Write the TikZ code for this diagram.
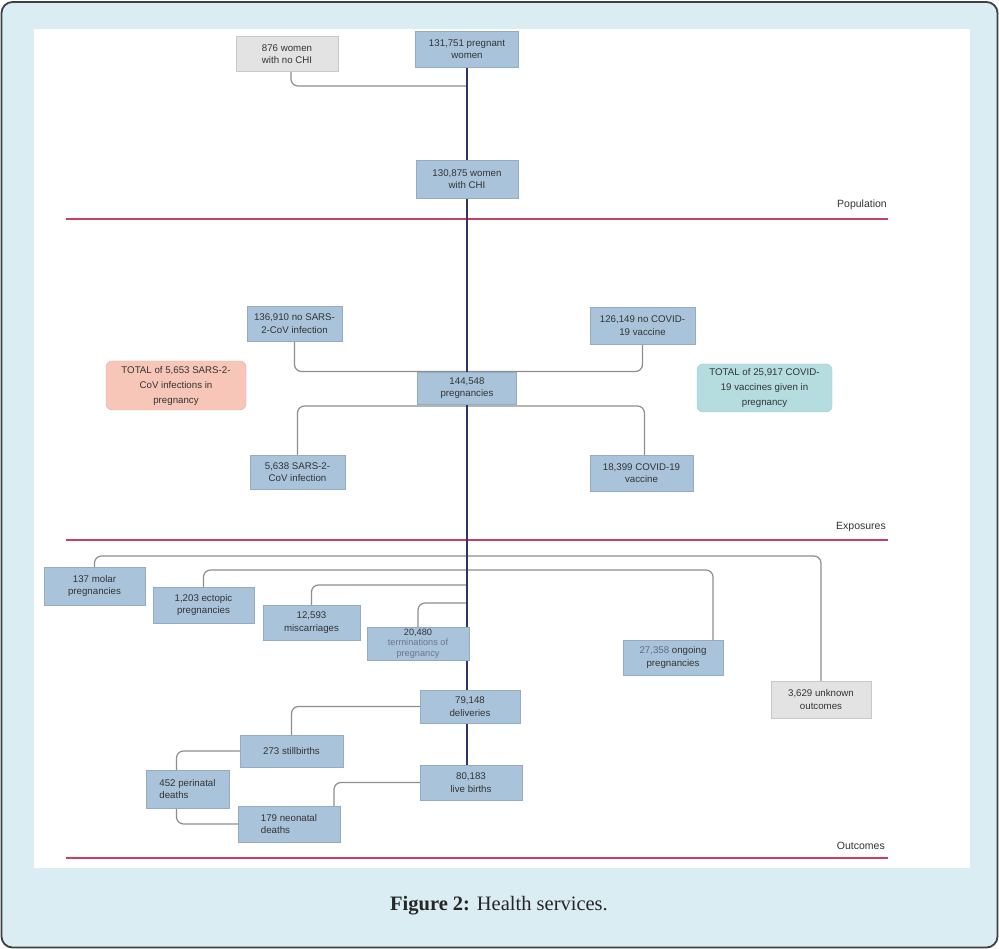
\documentclass[tikz,border=0pt]{standalone}
\usepackage{fontspec}
\setmainfont{Liberation Serif}
\newfontfamily\boxfont{Liberation Sans}
\usetikzlibrary{calc}
\pgfdeclarelayer{bg}
\pgfdeclarelayer{lines}
\pgfsetlayers{bg,lines,main}
\definecolor{framebg}{HTML}{D9EDF2}
\definecolor{boxblue}{HTML}{A9C4DA}
\definecolor{boxgray}{HTML}{E3E3E3}
\definecolor{totsalmon}{HTML}{F7C6B8}
\definecolor{totteal}{HTML}{B5DDDF}
\definecolor{mainnavy}{HTML}{2E3566}
\definecolor{redline}{HTML}{C94060}
\definecolor{conngray}{HTML}{8E8E8E}
\definecolor{txt}{HTML}{333333}
\tikzset{
  box/.style={fill=boxblue, draw=boxblue!88!black, line width=0.4pt, inner sep=1pt, align=center,
    font=\boxfont\fontsize{9.7}{12.5}\selectfont, text=txt},
  graybox/.style={box, fill=boxgray, draw=boxgray!88!black},
  totbox/.style={box, rounded corners=6pt, font=\boxfont\fontsize{9.7}{15}\selectfont},
  conn/.style={draw=conngray, line width=1.2pt, rounded corners=7pt},
  mainline/.style={draw=mainnavy, line width=2pt},
  sepline/.style={draw=redline, line width=2.8pt},
  seclabel/.style={font=\boxfont\fontsize{10.5}{12}\selectfont, text=txt, anchor=east, inner sep=0pt}
}
\begin{document}
\begin{tikzpicture}[x=1pt,y=-1pt]
\useasboundingbox (0,0) rectangle (999,949);
\begin{pgfonlayer}{bg}
  \draw[fill=framebg, draw=black!75, line width=1.8pt, rounded corners=11pt] (1.5,2) rectangle (997.5,947.5);
  \fill[white] (34,29) rectangle (970,868);
\end{pgfonlayer}

% population
\node[graybox, minimum width=102pt, minimum height=35pt] (n1) at (287,54) {876 women\\with no CHI};
\node[box, minimum width=103pt, minimum height=36pt] (n2) at (467,49) {131,751 pregnant\\women};
\node[box, minimum width=102pt, minimum height=38pt] (n3) at (467,179) {130,875 women\\with CHI};
\coordinate (j1) at (467,86);

% exposures
\node[box, minimum width=95pt, minimum height=35pt] (n4) at (294.5,323.5) {136,910 no SARS-\\2-CoV infection};
\node[box, minimum width=105pt, minimum height=37pt] (n5) at (642.5,325.5) {126,149 no COVID-\\19 vaccine};
\node[totbox, fill=totsalmon, draw=totsalmon!90!black, minimum width=140pt, minimum height=49pt] (t1) at (176,385.5) {TOTAL of 5,653 SARS-2-\\CoV infections in\\pregnancy};
\node[box, minimum width=99pt, minimum height=32pt] (n6) at (467,388) {144,548\\pregnancies};
\node[totbox, fill=totteal, draw=totteal!90!black, minimum width=135pt, minimum height=48pt] (t2) at (764.5,388) {TOTAL of 25,917 COVID-\\19 vaccines given in\\pregnancy};
\node[box, minimum width=95pt, minimum height=34pt] (n7) at (297.5,472) {5,638 SARS-2-\\CoV infection};
\node[box, minimum width=103pt, minimum height=36pt] (n8) at (641.5,473) {18,399 COVID-19\\vaccine};
\coordinate (j2) at (467,371.5);
\coordinate (j3) at (467,406);

% outcomes
\node[box, minimum width=101pt, minimum height=38pt] (o1) at (94.5,586) {137 molar\\pregnancies};
\node[box, minimum width=101pt, minimum height=36pt] (o2) at (203.5,605) {1,203 ectopic\\pregnancies};
\node[box, minimum width=97pt, minimum height=35pt] (o3) at (311.5,622.5) {12,593\\miscarriages};
\node[box, minimum width=102pt, minimum height=33pt, font=\boxfont\fontsize{9.2}{10.5}\selectfont] (o4) at (418,643.5) {20,480\\\textcolor{mainnavy!70}{terminations of}\\\textcolor{mainnavy!70}{pregnancy}};
\node[box, minimum width=100pt, minimum height=35pt] (o5) at (673,657.5) {\textcolor{mainnavy!75}{27,358} ongoing\\pregnancies};
\node[graybox, minimum width=100pt, minimum height=37pt] (o6) at (821,699.5) {3,629 unknown\\outcomes};
\coordinate (j4) at (467,556);
\coordinate (j5) at (467,570);
\coordinate (j6) at (467,585);
\coordinate (j7) at (467,603);

\node[box, minimum width=100pt, minimum height=33pt] (d1) at (470,706.5) {79,148\\deliveries};
\node[box, minimum width=103pt, minimum height=32pt] (d2) at (291.5,751) {273 stillbirths};
\node[box, minimum width=102pt, minimum height=35pt] (d3) at (471,782.5) {80,183\\live births};
\node[box, minimum width=83pt, minimum height=38pt, align=left] (d4) at (187.5,789) {452 perinatal\\deaths};
\node[box, minimum width=102pt, minimum height=36pt, align=left] (d5) at (289,824) {179 neonatal\\deaths};

% section separators
\coordinate (s1a) at (66,219); \coordinate (s1b) at (888,219);
\coordinate (s2a) at (66,540); \coordinate (s2b) at (888,540);
\coordinate (s3a) at (66,858); \coordinate (s3b) at (888,858);
\node[seclabel] (l1) at (887,205) {Population};
\node[seclabel] (l2) at (886,527) {Exposures};
\node[seclabel] (l3) at (885,846) {Outcomes};

\node[font=\fontsize{20.5}{24}\selectfont, text=black!85] (cap) at (499,906) {\textbf{Figure 2:} Health services.};

\begin{pgfonlayer}{lines}
  \draw[sepline] (s1a) -- (s1b);
  \draw[sepline] (s2a) -- (s2b);
  \draw[sepline] (s3a) -- (s3b);
  \draw[conn] ([xshift=4pt]n1.south) |- (j1);
  \draw[conn] (n4.south) |- (j2);
  \draw[conn] (n5.south) |- (j2);
  \draw[conn] (n7.north) |- (j3);
  \draw[conn] ([xshift=3pt]n8.north) |- (j3);
  \draw[conn] (o1.north) |- (j4);
  \draw[conn] (o6.north) |- (j4);
  \draw[conn] (o2.north) |- (j5);
  \draw[conn] ([xshift=40pt]o5.north) |- (j5);
  \draw[conn] (o3.north) |- (j6);
  \draw[conn] (o4.north) |- (j7);
  \draw[conn] (d1.west) -| (d2.north);
  \draw[conn] (d2.west) -| ([xshift=-11pt]d4.north);
  \draw[conn] ([xshift=-11pt]d4.south) |- (d5.west);
  \draw[conn] (d3.west) -| ([xshift=45pt]d5.north);
  \draw[mainline] (n2.south) -- (n3.north);
  \draw[mainline] (n3.south) -- (n6.north);
  \draw[mainline] (n6.south) -- (n6.south |- d1.north);
  \draw[mainline] (d1.south -| n6.south) -- (d3.north -| n6.south);
\end{pgfonlayer}
\end{tikzpicture}
\end{document}
